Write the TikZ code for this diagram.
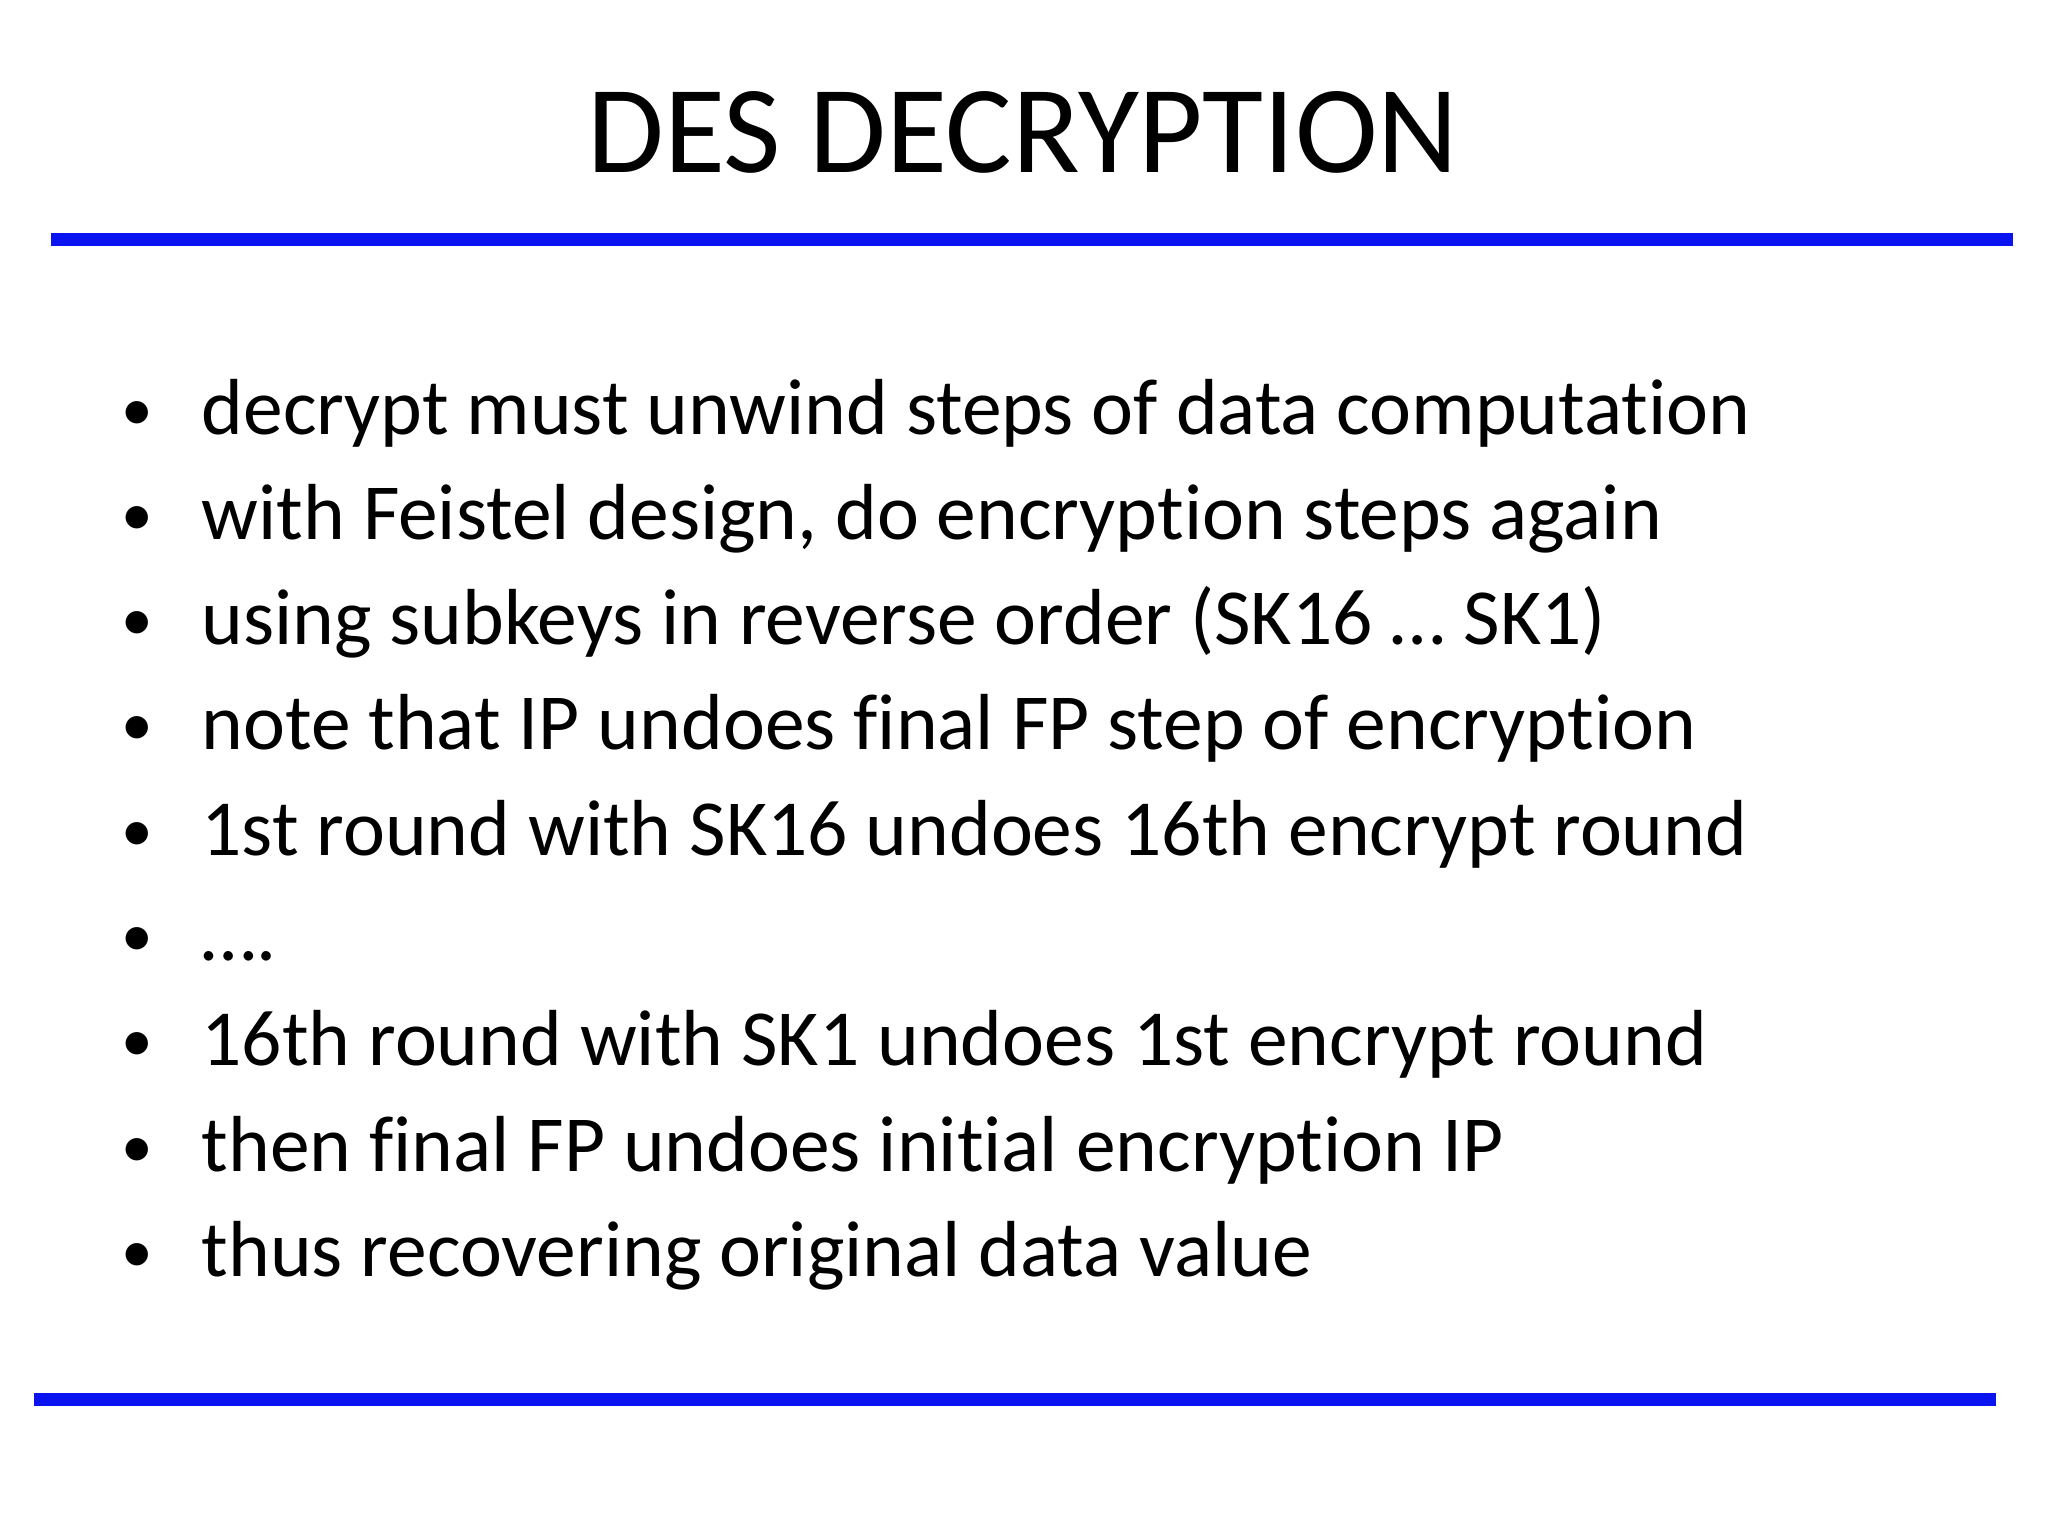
\documentclass[tikz,border=0pt]{standalone}
\usepackage{fontspec}
\setmainfont[Ligatures=NoCommon]{Carlito}
\definecolor{rule}{RGB}{10,20,240}
\begin{document}
\begin{tikzpicture}[x=0.01cm,y=-0.01cm,
  item/.style={anchor=base west,inner sep=0pt,font=\fontsize{22.6pt}{28pt}\selectfont},
  bul/.style={anchor=base,inner sep=0pt,font=\fontsize{18pt}{22pt}\selectfont}]
\useasboundingbox (0,0) rectangle (2048,1536);
\node[anchor=base,inner sep=0pt,font=\fontsize{35.5pt}{44pt}\selectfont] (title) at (1023,172) {DES DECRYPTION};
\draw[rule,line width=13*0.01cm] (51,239) coordinate (t1) -- (2013,239) coordinate (t2);
\draw[rule,line width=13*0.01cm] (34,1399) coordinate (b1) -- (1996,1399) coordinate (b2);
\foreach \t [count=\i from 0] in {
 decrypt must unwind steps of data computation,
 {with Feistel design, do encryption steps again},
 using subkeys in reverse order (SK16 … SK1),
 note that IP undoes final FP step of encryption,
 1st round with SK16 undoes 16th encrypt round,
 ….,
 16th round with SK1 undoes 1st encrypt round,
 then final FP undoes initial encryption IP,
 thus recovering original data value}{
 \node[bul] (b\i) at (137,{430+105.3*\i}) {•};
 \node[item] (i\i) at (201,{434+105.3*\i}) {\t};
}
\end{tikzpicture}
\end{document}
